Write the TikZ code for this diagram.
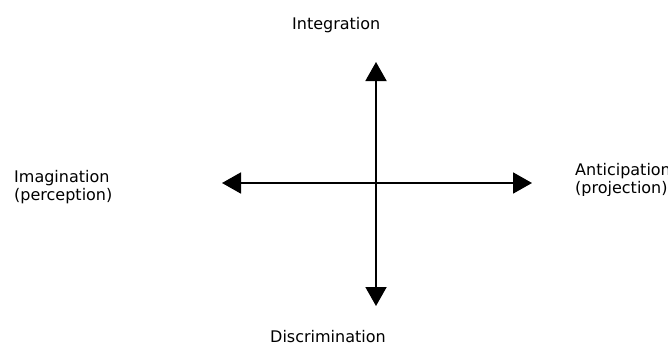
\documentclass[tikz,border=0pt]{standalone}
\usepackage{fontspec}
\setmainfont{DejaVu Sans}
\usetikzlibrary{arrows.meta}
\begin{document}
\begin{tikzpicture}[x=1pt,y=-1pt,
  axis/.style={line width=1.9pt,{Triangle[length=19pt,width=21pt]}-{Triangle[length=19pt,width=21pt]}},
  lbl/.style={inner sep=0pt,anchor=base west,font=\fontsize{16pt}{18pt}\selectfont,align=left}]
\useasboundingbox (0,0) rectangle (668,343);
% axis end points
\coordinate (top) at (376,62);
\coordinate (bottom) at (376,306);
\coordinate (left) at (222,183);
\coordinate (right) at (532,183);
\draw[axis] (bottom) -- (top);
\draw[axis] (left) -- (right);
% labels (base anchor sits on the last line of a two-line label)
\node[lbl] (integ) at (292,29) {Integration};
\node[lbl] (discr) at (270,342) {Discrimination};
\node[lbl] (imag) at (14,200) {Imagination\\(perception)};
\begin{scope}
\clip (560,150) rectangle (668,195);
\node[lbl] (antic) at (575,193) {Anticipation\\(projection)};
\end{scope}
\end{tikzpicture}
\end{document}
